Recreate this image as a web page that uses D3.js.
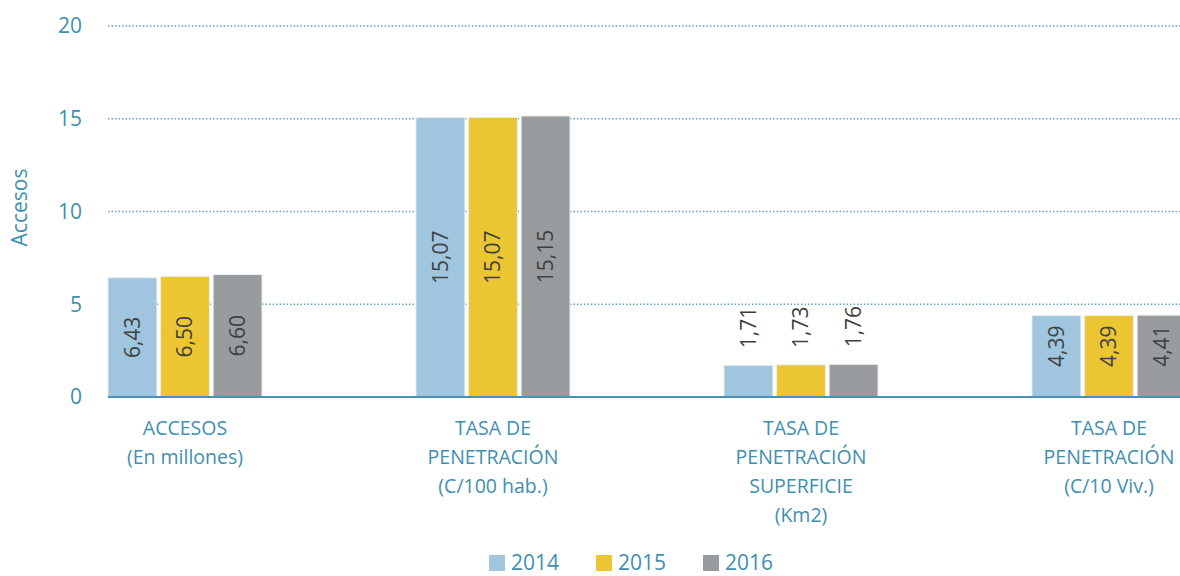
<!DOCTYPE html>
<html>
<head>
<meta charset="utf-8">
<script src="https://cdn.jsdelivr.net/npm/d3@7"></script>
<style>
  body { margin: 0; background: #fff; }
  text { font-family: "Open Sans", "Noto Sans", sans-serif; }
</style>
</head>
<body>
<div id="chart"></div>
<script>
// Data
const categories = [
  ["ACCESOS", "(En millones)"],
  ["TASA DE", "PENETRACIÓN", "(C/100 hab.)"],
  ["TASA DE", "PENETRACIÓN", "SUPERFICIE", "(Km2)"],
  ["TASA DE", "PENETRACIÓN", "(C/10 Viv.)"]
];
const years = ["2014", "2015", "2016"];
const values2014 = [6.43, 15.07, 1.71, 4.39];
const values2015 = [6.50, 15.07, 1.73, 4.39];
const values2016 = [6.60, 15.15, 1.76, 4.41];
const yTicks = [0, 5, 10, 15, 20];
const colors = ["#9fc6de", "#ecc532", "#999c9f"];

const width = 1180, height = 576;
const series = [values2014, values2015, values2016];
const blue = "#3f8fb0";

const svg = d3.select("#chart").append("svg")
  .attr("width", width)
  .attr("height", height);

// Scales
const x = d3.scaleBand()
  .domain(d3.range(categories.length))
  .range([31, 1263])
  .paddingInner(0);

const xSub = d3.scaleBand()
  .domain(years)
  .range([77, 231])
  .paddingInner(0.07);

const y = d3.scaleLinear()
  .domain([0, 20])
  .range([397, 26]);

// Gridlines
svg.append("g")
  .selectAll("line")
  .data(yTicks.filter(d => d > 0))
  .enter().append("line")
  .attr("x1", 108)
  .attr("x2", width)
  .attr("y1", d => y(d))
  .attr("y2", d => y(d))
  .attr("stroke", "#5fa6c6")
  .attr("stroke-width", 1.3)
  .attr("stroke-dasharray", "1.5,2");

// Y tick labels
svg.append("g")
  .selectAll("text")
  .data(yTicks)
  .enter().append("text")
  .attr("x", 82)
  .attr("y", d => y(d))
  .attr("dy", "0.35em")
  .attr("text-anchor", "end")
  .attr("fill", blue)
  .style("font-size", "21px")
  .text(d => d);

// Y axis title
svg.append("text")
  .attr("transform", `translate(27, ${y(10) - 4}) rotate(-90)`)
  .attr("text-anchor", "middle")
  .attr("fill", blue)
  .style("font-size", "21px")
  .text("Accesos");

// Bars
const groups = svg.append("g")
  .selectAll("g")
  .data(categories.map((c, i) => i))
  .enter().append("g")
  .attr("transform", i => `translate(${x(i)}, 0)`);

groups.selectAll("rect")
  .data(i => years.map((yr, j) => ({ yr, j, v: series[j][i] })))
  .enter().append("rect")
  .attr("x", d => xSub(d.yr))
  .attr("width", xSub.bandwidth())
  .attr("y", d => y(d.v))
  .attr("height", d => y(0) - y(d.v))
  .attr("fill", d => colors[d.j])
  .attr("stroke", "#ececec")
  .attr("stroke-width", 1);

// Value labels (inside if the bar is tall enough, else above)
groups.selectAll("text.val")
  .data(i => years.map((yr, j) => ({ yr, j, v: series[j][i] })))
  .enter().append("text")
  .attr("class", "val")
  .attr("transform", d => {
    const cx = xSub(d.yr) + xSub.bandwidth() / 2;
    const inside = d.v > 3;
    const cy = inside ? (y(d.v) + y(0)) / 2 - (d.v < 5 ? 10 : 0) : y(d.v) - 17;
    return `translate(${cx}, ${cy}) rotate(-90)`;
  })
  .attr("text-anchor", d => d.v > 3 ? "middle" : "start")
  .attr("dy", "0.35em")
  .attr("fill", "#404040")
  .style("font-size", "21px")
  .text(d => d3.format(".2f")(d.v).replace(".", ","));

// Baseline
svg.append("line")
  .attr("x1", 108)
  .attr("x2", width)
  .attr("y1", y(0))
  .attr("y2", y(0))
  .attr("stroke", "#4a93b3")
  .attr("stroke-width", 2);

// Category labels
groups.append("text")
  .attr("text-anchor", "middle")
  .attr("fill", blue)
  .style("font-size", "19.5px")
  .selectAll("tspan")
  .data(i => categories[i])
  .enter().append("tspan")
  .attr("x", x.bandwidth() / 2)
  .attr("y", (d, k) => 435 + k * 29)
  .text(d => d);

// Legend
const legend = svg.append("g")
  .selectAll("g")
  .data(years)
  .enter().append("g")
  .attr("transform", (d, i) => `translate(${489 + i * 107}, 555)`);

legend.append("rect")
  .attr("width", 16)
  .attr("height", 16)
  .attr("fill", (d, i) => colors[i]);

legend.append("text")
  .attr("x", 22)
  .attr("y", 8)
  .attr("dy", "0.35em")
  .attr("fill", blue)
  .style("font-size", "21px")
  .text(d => d);
</script>
</body>
</html>
